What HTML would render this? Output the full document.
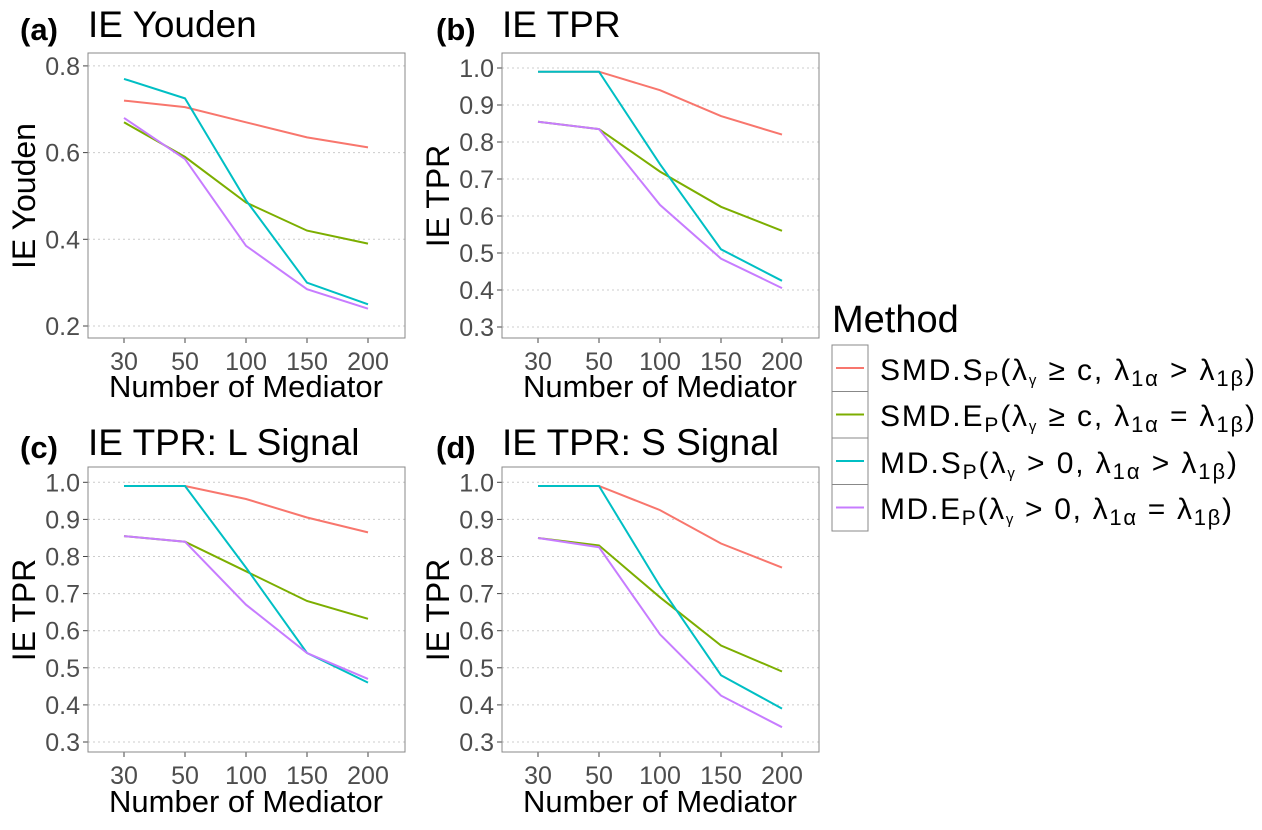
<!DOCTYPE html>
<html><head><meta charset="utf-8"><style>
body{margin:0;background:#fff;}
svg{display:block;font-family:"Liberation Sans",sans-serif;}
</style></head><body>
<svg id="s" width="1262" height="830" xmlns="http://www.w3.org/2000/svg">
<text x="20" y="40" font-size="31" font-weight="bold">(a)</text><text x="88" y="37" font-size="37">IE Youden</text>
<text x="436" y="40" font-size="31" font-weight="bold">(b)</text><text x="502" y="37" font-size="37">IE TPR</text>
<text x="20" y="458" font-size="31" font-weight="bold">(c)</text><text x="88" y="455" font-size="37">IE TPR: L Signal</text>
<text x="436" y="458" font-size="31" font-weight="bold">(d)</text><text x="502" y="455" font-size="37">IE TPR: S Signal</text>
<text transform="translate(35,196) rotate(-90)" font-size="32" text-anchor="middle">IE Youden</text>
<text transform="translate(449,196) rotate(-90)" font-size="32" text-anchor="middle">IE TPR</text>
<text transform="translate(35,610) rotate(-90)" font-size="32" text-anchor="middle">IE TPR</text>
<text transform="translate(449,610) rotate(-90)" font-size="32" text-anchor="middle">IE TPR</text>
<text x="246" y="397" font-size="31" text-anchor="middle">Number of Mediator</text>
<text x="660" y="397" font-size="31" text-anchor="middle">Number of Mediator</text>
<text x="246" y="812" font-size="31" text-anchor="middle">Number of Mediator</text>
<text x="660" y="812" font-size="31" text-anchor="middle">Number of Mediator</text>
<text x="832" y="332" font-size="38">Method</text>
<g font-size="30">
<text x="880" y="380" textLength="375" lengthAdjust="spacing">SMD.S<tspan font-size="21" dy="6">P</tspan><tspan dy="-6">(λ</tspan><tspan font-size="15" dy="5">γ</tspan><tspan dy="-5"> ≥ c, λ</tspan><tspan font-size="22" dy="6">1α</tspan><tspan dy="-6"> &gt; λ</tspan><tspan font-size="22" dy="6">1β</tspan><tspan dy="-6">)</tspan></text>
<text x="880" y="426" textLength="375" lengthAdjust="spacing">SMD.E<tspan font-size="21" dy="6">P</tspan><tspan dy="-6">(λ</tspan><tspan font-size="15" dy="5">γ</tspan><tspan dy="-5"> ≥ c, λ</tspan><tspan font-size="22" dy="6">1α</tspan><tspan dy="-6"> = λ</tspan><tspan font-size="22" dy="6">1β</tspan><tspan dy="-6">)</tspan></text>
<text x="880" y="473" textLength="357" lengthAdjust="spacing">MD.S<tspan font-size="21" dy="6">P</tspan><tspan dy="-6">(λ</tspan><tspan font-size="15" dy="5">γ</tspan><tspan dy="-5"> &gt; 0, λ</tspan><tspan font-size="22" dy="6">1α</tspan><tspan dy="-6"> &gt; λ</tspan><tspan font-size="22" dy="6">1β</tspan><tspan dy="-6">)</tspan></text>
<text x="880" y="519" textLength="352" lengthAdjust="spacing">MD.E<tspan font-size="21" dy="6">P</tspan><tspan dy="-6">(λ</tspan><tspan font-size="15" dy="5">γ</tspan><tspan dy="-5"> &gt; 0, λ</tspan><tspan font-size="22" dy="6">1α</tspan><tspan dy="-6"> = λ</tspan><tspan font-size="22" dy="6">1β</tspan><tspan dy="-6">)</tspan></text>
</g>
</svg>
<script>
var s=document.getElementById('s'),NS='http://www.w3.org/2000/svg';
function el(t,a,txt){var e=document.createElementNS(NS,t);for(var k in a)e.setAttribute(k,a[k]);if(txt!=null)e.textContent=txt;s.appendChild(e);return e;}
var C=['#F8766D','#7CAE00','#00BFC4','#C77CFF'];
for(var i=0;i<4;i++){var y=345+i*46.5;el('rect',{x:832,y:y,width:36,height:46.5,fill:'#fff',stroke:'#888','stroke-width':1});el('line',{x1:836,x2:864,y1:y+23,y2:y+23,stroke:C[i],'stroke-width':2});}
var XT=['30','50','100','150','200'];
function panel(x0,y0,ticks,v0,y0v,pxPer,data){
 var x1=x0+317,y1=y0+285;
 ticks.forEach(function(t){var y=y0v-(t-v0)*pxPer;el('line',{x1:x0,x2:x1,y1:y,y2:y,stroke:'#ccc','stroke-dasharray':'2,3','stroke-width':1});
  el('line',{x1:x0-5,x2:x0,y1:y,y2:y,stroke:'#444'});el('text',{x:x0-8,y:y+9,'font-size':25,fill:'#4d4d4d','text-anchor':'end'},t.toFixed(1));});
 XT.forEach(function(t,i){var x=x0+36+i*61;el('line',{x1:x,x2:x,y1:y1,y2:y1+5,stroke:'#444'});el('text',{x:x,y:y1+32,'font-size':25,fill:'#4d4d4d','text-anchor':'middle'},t);});
 data.forEach(function(d,j){var p=d.map(function(v,i){return (x0+36+i*61)+','+(y0v-(v-v0)*pxPer).toFixed(1);}).join(' ');el('polyline',{points:p,fill:'none',stroke:C[j],'stroke-width':2});});
 el('rect',{x:x0,y:y0,width:317,height:285,fill:'none',stroke:'#888','stroke-width':1});
}
panel(88,53,[0.2,0.4,0.6,0.8],0.2,326,433.5,[[.72,.705,.67,.635,.612],[.67,.59,.485,.42,.39],[.77,.725,.49,.30,.25],[.68,.585,.385,.285,.24]]);
var T=[.3,.4,.5,.6,.7,.8,.9,1.0];
panel(502,53,T,0.3,327,370,[[.99,.99,.94,.87,.82],[.855,.835,.72,.625,.56],[.99,.99,.74,.51,.425],[.855,.835,.63,.485,.405]]);
panel(88,467,T,0.3,742,371,[[.99,.99,.955,.905,.865],[.855,.84,.76,.68,.632],[.99,.99,.77,.54,.46],[.855,.84,.67,.54,.47]]);
panel(502,467,T,0.3,742,371,[[.99,.99,.925,.835,.77],[.85,.83,.69,.56,.49],[.99,.99,.72,.48,.39],[.85,.825,.59,.425,.34]]);
</script>
</body></html>
